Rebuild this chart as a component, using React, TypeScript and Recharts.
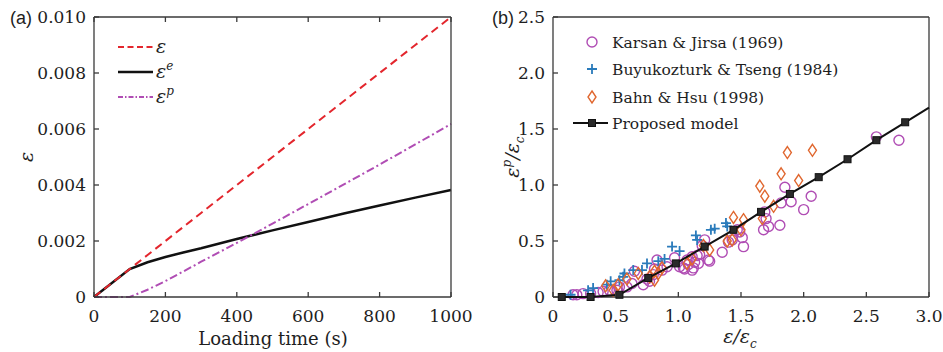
import React from 'react';
import { ComposedChart, Line, Scatter, XAxis, YAxis, Legend } from 'recharts';

// (a) strain components against loading time
const loadTime = [0, 100, 150, 200, 250, 300, 400, 500, 600, 700, 800, 900, 1000];
const totalStrain = [0, 0.001, 0.0015, 0.002, 0.0025, 0.003, 0.004, 0.005, 0.006, 0.007, 0.008, 0.009, 0.01];
const elasticStrain = [0, 0.001, 0.00124, 0.00143, 0.00159, 0.00174, 0.00207, 0.00238, 0.00268, 0.00298, 0.00327, 0.00355, 0.00382];
const plasticStrain = [0, 0, 0.00026, 0.00057, 0.00091, 0.00126, 0.00193, 0.00262, 0.00332, 0.00402, 0.00473, 0.00545, 0.00618];
const timeTicks = [0, 200, 400, 600, 800, 1000];
const strainTicks = [0, 0.002, 0.004, 0.006, 0.008, 0.01];

// (b) normalised plastic strain vs normalised total strain
const karsanX = [0.16, 0.19, 0.24, 0.3, 0.36, 0.4, 0.45, 0.51, 0.53, 0.59, 0.63, 0.65, 0.72, 0.75, 0.77, 0.8, 0.81, 0.83, 0.87, 0.91, 0.97, 1.01, 1.04, 1.05, 1.07, 1.08, 1.11, 1.11, 1.12, 1.13, 1.15, 1.16, 1.17, 1.19, 1.21, 1.24, 1.25, 1.35, 1.4, 1.43, 1.47, 1.49, 1.51, 1.52, 1.68, 1.69, 1.7, 1.72, 1.81, 1.82, 1.85, 1.9, 2.0, 2.06, 2.58, 2.76];
const karsanY = [0.02, 0.02, 0.03, 0.03, 0.04, 0.05, 0.06, 0.06, 0.09, 0.09, 0.12, 0.23, 0.11, 0.16, 0.14, 0.2, 0.25, 0.33, 0.24, 0.27, 0.35, 0.27, 0.26, 0.25, 0.33, 0.29, 0.36, 0.24, 0.26, 0.31, 0.37, 0.3, 0.38, 0.46, 0.51, 0.33, 0.32, 0.4, 0.49, 0.51, 0.6, 0.58, 0.53, 0.45, 0.6, 0.76, 0.7, 0.63, 0.64, 0.84, 0.98, 0.85, 0.78, 0.9, 1.43, 1.4];
const buyukX = [0.14, 0.28, 0.32, 0.43, 0.46, 0.53, 0.56, 0.57, 0.64, 0.71, 0.75, 0.84, 0.89, 0.95, 1.01, 1.14, 1.15, 1.26, 1.29, 1.38, 1.39];
const buyukY = [0.02, 0.06, 0.08, 0.11, 0.14, 0.15, 0.18, 0.21, 0.24, 0.24, 0.3, 0.32, 0.34, 0.45, 0.41, 0.55, 0.51, 0.6, 0.61, 0.66, 0.63];
const bahnX = [0.42, 0.48, 0.52, 0.59, 0.68, 0.77, 0.81, 0.81, 0.84, 0.87, 1.07, 1.11, 1.2, 1.25, 1.39, 1.43, 1.44, 1.5, 1.52, 1.65, 1.67, 1.69, 1.76, 1.82, 1.87, 1.96, 2.07];
const bahnY = [0.1, 0.06, 0.11, 0.16, 0.21, 0.18, 0.15, 0.23, 0.21, 0.26, 0.3, 0.34, 0.46, 0.42, 0.5, 0.51, 0.71, 0.6, 0.69, 0.99, 0.7, 0.9, 0.81, 1.1, 1.29, 1.04, 1.31];
const modelX = [0.07, 0.3, 0.53, 0.76, 0.98, 1.21, 1.44, 1.66, 1.89, 2.12, 2.35, 2.58, 2.81, 3.0];
const modelY = [0, 0, 0.02, 0.17, 0.3, 0.45, 0.6, 0.76, 0.92, 1.07, 1.23, 1.4, 1.56, 1.69];
const ratioTicksX = [0, 0.5, 1, 1.5, 2, 2.5, 3];
const ratioTicksY = [0, 0.5, 1, 1.5, 2, 2.5];

const SERIF = 'DejaVu Serif';
const SANS = 'Liberation Sans';
const AXIS = '#3a3a3a';
const TEXT = '#1e1e1e';
const RED = '#e3262d';
const PURPLE = '#b04db4';
const BLUE = '#2a7bbb';
const ORANGE = '#e0672f';

// plot frame (chart-local pixels), both panels share top/bottom
const FRAME_TOP = 17;
const FRAME_BOTTOM = 297;
const TICK_LEN = 5;
const TICK_FONT = 17;

const timeRows = loadTime.map((t, i) => ({
  t,
  total: totalStrain[i],
  elastic: elasticStrain[i],
  plastic: plasticStrain[i],
}));

const toPoints = (xs: number[], ys: number[]) => xs.map((x, i) => ({ x, y: ys[i] }));
const karsanPts = toPoints(karsanX, karsanY);
const buyukPts = toPoints(buyukX, buyukY);
const bahnPts = toPoints(bahnX, bahnY);
// last model point only carries the line out to the frame, no marker
const modelPts = modelX.map((x, i) => ({ x, y: modelY[i], marked: i < modelX.length - 1 }));

const fmtStrain = (v: number) => (v === 0 ? '0' : v.toFixed(3));
const fmtRatio = (v: number) => (v === 0 ? '0' : v.toFixed(1));

// inward ticks, drawn by hand so they sit inside the frame
const bottomTick = (fmt: (v: number) => string) => (p: any) => (
  <g>
    <line x1={p.x} x2={p.x} y1={FRAME_BOTTOM} y2={FRAME_BOTTOM - TICK_LEN} stroke={AXIS} strokeWidth={1.3} />
    <text x={p.x} y={FRAME_BOTTOM + 25} textAnchor="middle" fontFamily={SERIF} fontSize={TICK_FONT} fill={TEXT}>
      {fmt(p.payload.value)}
    </text>
  </g>
);
const topTick = (p: any) => (
  <line x1={p.x} x2={p.x} y1={FRAME_TOP} y2={FRAME_TOP + TICK_LEN} stroke={AXIS} strokeWidth={1.3} />
);
const leftTick = (left: number, fmt: (v: number) => string) => (p: any) => (
  <g>
    <line x1={left} x2={left + TICK_LEN} y1={p.y} y2={p.y} stroke={AXIS} strokeWidth={1.3} />
    <text x={left - 8} y={p.y + 6} textAnchor="end" fontFamily={SERIF} fontSize={TICK_FONT} fill={TEXT}>
      {fmt(p.payload.value)}
    </text>
  </g>
);
const rightTick = (right: number) => (p: any) => (
  <line x1={right} x2={right - TICK_LEN} y1={p.y} y2={p.y} stroke={AXIS} strokeWidth={1.3} />
);

const Circle = (p: any) => (
  <circle cx={p.cx} cy={p.cy} r={5} fill="none" stroke={PURPLE} strokeWidth={1.4} />
);
const Plus = (p: any) => (
  <path d={`M${p.cx - 5},${p.cy}H${p.cx + 5}M${p.cx},${p.cy - 5}V${p.cy + 5}`} stroke={BLUE} strokeWidth={1.8} />
);
const Diamond = (p: any) => (
  <path
    d={`M${p.cx},${p.cy - 6}L${p.cx + 4},${p.cy}L${p.cx},${p.cy + 6}L${p.cx - 4},${p.cy}Z`}
    fill="none"
    stroke={ORANGE}
    strokeWidth={1.4}
  />
);
const Square = (p: any) =>
  p.payload && p.payload.marked ? (
    <rect x={p.cx - 3.5} y={p.cy - 3.5} width={7} height={7} fill="#2a2a2a" stroke="#111" strokeWidth={1} />
  ) : (
    <g />
  );

const Eps = ({ x, y, sup }: { x: number; y: number; sup?: string }) => (
  <text x={x} y={y} fontFamily={SERIF} fontStyle="italic" fontSize={19} fill={TEXT}>
    ε
    {sup ? (
      <tspan dy={-8} fontSize={12}>
        {sup}
      </tspan>
    ) : null}
  </text>
);

const strainLegend = () => (
  <svg width={110} height={80}>
    <line x1={8} x2={43} y1={17} y2={17} stroke={RED} strokeWidth={2} strokeDasharray="6 3.5" />
    <Eps x={46} y={23} />
    <line x1={8} x2={43} y1={42} y2={42} stroke="#111" strokeWidth={2.5} />
    <Eps x={46} y={48} sup="e" />
    <line x1={8} x2={43} y1={67} y2={67} stroke={PURPLE} strokeWidth={2} strokeDasharray="5 2 1.5 2" />
    <Eps x={46} y={73} sup="p" />
  </svg>
);

const ratioLegend = () => {
  const rows = ['Karsan & Jirsa (1969)', 'Buyukozturk & Tseng (1984)', 'Bahn & Hsu (1998)', 'Proposed model'];
  const ys = [17, 44, 72, 98];
  const marks = [Circle, Plus, Diamond];
  return (
    <svg width={300} height={112}>
      {marks.map((M, i) => (
        <M key={i} cx={22} cy={ys[i]} />
      ))}
      <line x1={3} x2={38} y1={ys[3]} y2={ys[3]} stroke="#111" strokeWidth={2} />
      <Square cx={22} cy={ys[3]} payload={{ marked: true }} />
      {rows.map((r, i) => (
        <text key={r} x={42} y={ys[i] + 5.5} fontFamily={SERIF} fontSize={15.5} fill={TEXT}>
          {r}
        </text>
      ))}
    </svg>
  );
};

const StrainChart = () => (
  <ComposedChart width={482} height={352} data={timeRows} margin={{ top: 12, right: 21, bottom: 5, left: 0 }}>
    <XAxis
      dataKey="t"
      type="number"
      domain={[0, 1000]}
      ticks={timeTicks}
      tick={bottomTick(String)}
      tickLine={false}
      height={50}
      stroke={AXIS}
      strokeWidth={1.3}
      label={() => (
        <text x={273} y={345} textAnchor="middle" fontFamily={SERIF} fontSize={18} fill={TEXT}>
          Loading time (s)
        </text>
      )}
    />
    <XAxis xAxisId="top" orientation="top" dataKey="t" type="number" domain={[0, 1000]} ticks={timeTicks} tick={topTick} tickLine={false} height={5} stroke={AXIS} strokeWidth={1.3} />
    <YAxis
      type="number"
      domain={[0, 0.01]}
      ticks={strainTicks}
      tick={leftTick(94, fmtStrain)}
      tickLine={false}
      width={94}
      stroke={AXIS}
      strokeWidth={1.3}
      label={() => (
        <g>
          <text x={10} y={24} fontFamily={SANS} fontSize={18} fill={TEXT}>
            (a)
          </text>
          <text x={33} y={157} textAnchor="middle" transform="rotate(-90, 33, 157)" fontFamily={SERIF} fontStyle="italic" fontSize={19} fill={TEXT}>
            ε
          </text>
        </g>
      )}
    />
    <YAxis yAxisId="right" orientation="right" type="number" domain={[0, 0.01]} ticks={strainTicks} tick={rightTick(451)} tickLine={false} width={10} stroke={AXIS} strokeWidth={1.3} />
    <Line type="linear" dataKey="elastic" stroke="#111" strokeWidth={2.5} dot={false} isAnimationActive={false} />
    <Line type="linear" dataKey="plastic" stroke={PURPLE} strokeWidth={2} strokeDasharray="8 3 2 3" dot={false} isAnimationActive={false} />
    <Line type="linear" dataKey="total" stroke={RED} strokeWidth={2} strokeDasharray="8 5" dot={false} isAnimationActive={false} />
    <Legend layout="vertical" align="center" verticalAlign="middle" wrapperStyle={{ left: 110, top: 30, width: 110 }} content={strainLegend} />
  </ComposedChart>
);

const RatioChart = () => (
  <ComposedChart width={473} height={352} margin={{ top: 12, right: 4, bottom: 5, left: 0 }}>
    <XAxis
      dataKey="x"
      type="number"
      domain={[0, 3]}
      ticks={ratioTicksX}
      tick={bottomTick(fmtRatio)}
      tickLine={false}
      height={50}
      stroke={AXIS}
      strokeWidth={1.3}
      label={() => (
        <text x={270} y={343} textAnchor="middle" fontFamily={SERIF} fontStyle="italic" fontSize={19} fill={TEXT}>
          ε/ε<tspan dy={5} fontSize={12}>c</tspan>
        </text>
      )}
    />
    <XAxis xAxisId="top" orientation="top" dataKey="x" type="number" domain={[0, 3]} ticks={ratioTicksX} tick={topTick} tickLine={false} height={5} stroke={AXIS} strokeWidth={1.3} />
    <YAxis
      dataKey="y"
      type="number"
      domain={[0, 2.5]}
      ticks={ratioTicksY}
      tick={leftTick(83, fmtRatio)}
      tickLine={false}
      width={83}
      stroke={AXIS}
      strokeWidth={1.3}
      label={() => (
        <g>
          <text x={22} y={24} fontFamily={SANS} fontSize={18} fill={TEXT}>
            (b)
          </text>
          <text x={49} y={157} textAnchor="middle" transform="rotate(-90, 49, 157)" fontFamily={SERIF} fontStyle="italic" fontSize={19} fill={TEXT}>
            ε<tspan dy={-8} fontSize={12}>p</tspan>
            <tspan dy={8} fontSize={19}>/ε</tspan>
            <tspan dy={5} fontSize={12}>c</tspan>
          </text>
        </g>
      )}
    />
    <YAxis yAxisId="right" orientation="right" dataKey="y" type="number" domain={[0, 2.5]} ticks={ratioTicksY} tick={rightTick(459)} tickLine={false} width={10} stroke={AXIS} strokeWidth={1.3} />
    <Scatter name="Karsan & Jirsa (1969)" data={karsanPts} shape={Circle} isAnimationActive={false} />
    <Scatter name="Buyukozturk & Tseng (1984)" data={buyukPts} shape={Plus} isAnimationActive={false} />
    <Scatter name="Bahn & Hsu (1998)" data={bahnPts} shape={Diamond} isAnimationActive={false} />
    <Scatter
      name="Proposed model"
      data={modelPts}
      shape={Square}
      line={{ stroke: '#111', strokeWidth: 2 }}
      lineType="joint"
      isAnimationActive={false}
    />
    <Legend layout="vertical" align="center" verticalAlign="middle" wrapperStyle={{ left: 100, top: 25, width: 300 }} content={ratioLegend} />
  </ComposedChart>
);

export default function App() {
  return (
    <div style={{ position: 'absolute', left: 0, top: 0, width: 943, height: 352, background: '#fff' }}>
      <div style={{ position: 'absolute', left: 0, top: 0 }}>
        <StrainChart />
      </div>
      <div style={{ position: 'absolute', left: 470, top: 0 }}>
        <RatioChart />
      </div>
    </div>
  );
}
